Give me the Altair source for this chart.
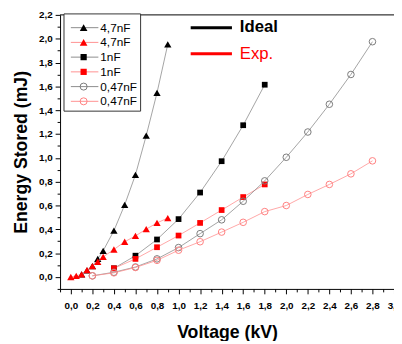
import altair as alt
import pandas as pd

# ---- data ----
v_47 = [0.1, 0.15, 0.2, 0.25, 0.3, 0.4, 0.5, 0.6, 0.7, 0.8, 0.9]
e_47_ideal = [0.022, 0.055, 0.092, 0.152, 0.22, 0.389, 0.606, 0.858, 1.187, 1.546, 1.953]
v_47e = [0.0, 0.05, 0.1, 0.15, 0.2, 0.25, 0.3, 0.4, 0.5, 0.6, 0.7, 0.8, 0.9]
e_47_exp = [0.0, 0.01, 0.022, 0.057, 0.092, 0.128, 0.169, 0.231, 0.296, 0.345, 0.402, 0.454, 0.495]

v_1 = [0.4, 0.6, 0.8, 1.0, 1.2, 1.4, 1.6, 1.8]
e_1_ideal = [0.073, 0.179, 0.315, 0.486, 0.709, 0.972, 1.274, 1.614]
e_1_exp = [0.073, 0.152, 0.25, 0.348, 0.454, 0.562, 0.671, 0.777]

v_047 = [0.2, 0.4, 0.6, 0.8, 1.0, 1.2, 1.4, 1.6, 1.8, 2.0, 2.2, 2.4, 2.6, 2.8]
e_047_ideal = [0.01, 0.04, 0.084, 0.152, 0.247, 0.364, 0.48, 0.636, 0.807, 1.005, 1.217, 1.45, 1.70, 1.975]
e_047_exp = [0.01, 0.035, 0.08, 0.14, 0.225, 0.296, 0.377, 0.459, 0.549, 0.60, 0.693, 0.777, 0.866, 0.975]

series_labels = ["4,7nF", "4,7nF", "1nF", "1nF", "0,47nF", "0,47nF"]

# style per series: (shape, filled, marker colour, line colour)
styles = [
    ("triangle-up", True, "#000000", "#8c8c8c"),
    ("triangle-up", True, "#ff0000", "#ff9090"),
    ("square", True, "#000000", "#8c8c8c"),
    ("square", True, "#ff0000", "#ff9090"),
    ("circle", False, "#7a7a7a", "#8c8c8c"),
    ("circle", False, "#ff8080", "#ff9090"),
]
sizes = {"triangle-up": 55, "square": 34, "circle": 45}

series_data = [
    (v_47, e_47_ideal), (v_47e, e_47_exp),
    (v_1, e_1_ideal), (v_1, e_1_exp),
    (v_047, e_047_ideal), (v_047, e_047_exp),
]

x_ticks = [round(-0.1 + 0.1 * i, 1) for i in range(32)]
y_ticks = [round(-0.1 + 0.1 * i, 1) for i in range(24)]

lab_expr = ("abs(round(datum.value*10)) % 2 == 0 ? "
            "replace(format(datum.value, '.1f'), '.', ',') : ''")
tick_size = {"condition": {"test": "abs(round(datum.value*10)) % 2 == 0", "value": 5}, "value": 3}

x_enc = alt.X("v:Q", scale=alt.Scale(domain=[-0.1, 3.0], nice=False, zero=False),
              axis=alt.Axis(values=x_ticks, labelExpr=lab_expr, title="Voltage (kV)",
                            grid=False, tickSize=tick_size, labelOverlap=False,
                            labelFlush=False, labelPadding=7, titlePadding=13))
y_enc = alt.Y("e:Q", scale=alt.Scale(domain=[-0.1, 2.2], nice=False, zero=False),
              axis=alt.Axis(values=y_ticks, labelExpr=lab_expr, title="Energy Stored (mJ)",
                            grid=False, tickSize=tick_size, labelOverlap=False,
                            labelFlush=False, labelPadding=3, titlePadding=8))

layers = []
for (vs, es), (shape, filled, mc, lc) in zip(series_data, styles):
    df = pd.DataFrame({"v": vs, "e": es})
    base = alt.Chart(df)
    layers.append(base.mark_line(color=lc, strokeWidth=0.8).encode(x=x_enc, y=y_enc))
    pt = base.mark_point(shape=shape, filled=filled, size=sizes[shape],
                         color=mc, opacity=1, strokeWidth=1 if not filled else 0)
    layers.append(pt.encode(x=x_enc, y=y_enc))

# top frame line (decoration)
one = pd.DataFrame({"a": [0]})
layers.append(alt.Chart(one).mark_rule(color="black", strokeWidth=1).encode(
    x=alt.value(0), x2=alt.value(345), y=alt.value(0)))

# ---- legend box (decoration) ----
layers.append(alt.Chart(one).mark_rect(fill="white", stroke="#333333", strokeWidth=1).encode(
    x=alt.value(4), x2=alt.value(82), y=alt.value(-1), y2=alt.value(98)))
row_y = [13, 28, 43, 58, 73, 88]
for ry, lab, (shape, filled, mc, lc) in zip(row_y, series_labels, styles):
    layers.append(alt.Chart(one).mark_rule(color=lc, strokeWidth=1).encode(
        x=alt.value(11), x2=alt.value(39), y=alt.value(ry)))
    layers.append(alt.Chart(one).mark_point(shape=shape, filled=filled, size=sizes[shape] + 6,
                                             color=mc, opacity=1,
                                             strokeWidth=1 if not filled else 0).encode(
        x=alt.value(24), y=alt.value(ry)))
    layers.append(alt.Chart(one).mark_text(text=lab, align="left", baseline="middle",
                                            font="Liberation Sans", fontSize=12, color="black").encode(
        x=alt.value(41), y=alt.value(ry)))

# ---- Ideal / Exp. key ----
layers.append(alt.Chart(one).mark_rule(color="black", strokeWidth=3).encode(
    x=alt.value(133), x2=alt.value(175), y=alt.value(13)))
layers.append(alt.Chart(one).mark_rule(color="#ff0000", strokeWidth=3).encode(
    x=alt.value(133), x2=alt.value(175), y=alt.value(39.5)))
layers.append(alt.Chart(one).mark_text(text="Ideal", align="left", baseline="middle",
                                        font="Liberation Sans", fontSize=17, fontWeight="bold",
                                        color="black").encode(x=alt.value(183), y=alt.value(12.5)))
layers.append(alt.Chart(one).mark_text(text="Exp.", align="left", baseline="middle",
                                        font="Liberation Sans", fontSize=17,
                                        color="#ff0000").encode(x=alt.value(183), y=alt.value(40)))

chart = alt.layer(*layers).properties(
    width=340, height=279,
    autosize=alt.AutoSizeParams(type="none"),
    padding={"left": 53, "top": 4, "right": 0, "bottom": 50},
).configure_view(stroke=None).configure_axis(
    domainColor="black", domainWidth=1, tickColor="black", tickWidth=1,
    labelFont="Liberation Sans", labelFontSize=10, labelFontWeight="bold", labelColor="black",
    titleFont="Liberation Sans", titleFontSize=18, titleFontWeight="bold", titleColor="black",
)

chart.save("out.html", embed_options={"renderer": "svg", "actions": False})
